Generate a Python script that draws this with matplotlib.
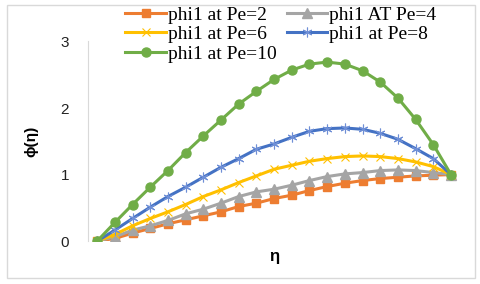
import numpy as np
import matplotlib.pyplot as plt
from matplotlib.patches import Rectangle

plt.rcParams['font.family'] = ['Liberation Sans', 'DejaVu Sans']

eta = np.linspace(0, 1, 21)

phi_pe2 = [0.0, 0.04, 0.12, 0.19, 0.26, 0.32, 0.38, 0.44, 0.52, 0.57, 0.64,
           0.69, 0.76, 0.82, 0.87, 0.91, 0.94, 0.96, 0.98, 0.99, 1.0]
phi_pe4 = [0.0, 0.065, 0.165, 0.23, 0.31, 0.41, 0.48, 0.57, 0.67, 0.74, 0.78,
           0.84, 0.91, 0.97, 1.01, 1.03, 1.06, 1.07, 1.06, 1.03, 1.0]
phi_pe6 = [0.0, 0.10, 0.23, 0.34, 0.44, 0.55, 0.67, 0.77, 0.88, 0.98, 1.08,
           1.14, 1.20, 1.24, 1.27, 1.28, 1.27, 1.24, 1.19, 1.12, 1.0]
phi_pe8 = [0.0, 0.165, 0.34, 0.51, 0.67, 0.81, 0.96, 1.11, 1.24, 1.38, 1.46,
           1.56, 1.65, 1.69, 1.70, 1.68, 1.62, 1.53, 1.39, 1.24, 1.0]
phi_pe10 = [0.0, 0.28, 0.55, 0.81, 1.06, 1.33, 1.58, 1.82, 2.06, 2.25, 2.43,
            2.57, 2.66, 2.69, 2.66, 2.56, 2.39, 2.15, 1.83, 1.45, 1.0]

labels = ['phi1 at Pe=2', 'phi1 AT Pe=4', 'phi1 at Pe=6', 'phi1 at Pe=8', 'phi1 at Pe=10']
colors = ['#ED7D31', '#A5A5A5', '#FFC000', '#4472C4', '#70AD47']

fig = plt.figure(figsize=(4.8, 2.84), dpi=100)
ax = fig.add_axes([0.184, 0.151, 0.774, 0.703])

h2, = ax.plot(eta, phi_pe2, color=colors[0], lw=2.2, marker='s', ms=6, label=labels[0])
h4, = ax.plot(eta, phi_pe4, color=colors[1], lw=2.2, marker='^', ms=7, label=labels[1])
h6, = ax.plot(eta, phi_pe6, color=colors[2], lw=2.2, marker='x', ms=6, mew=0.8, label=labels[2])
h8, = ax.plot(eta, phi_pe8, color=colors[3], lw=2.2, marker=(6, 2, 0), ms=7, mew=0.8,
              mec='#6f8fd6', label=labels[3])
h10, = ax.plot(eta, phi_pe10, color=colors[4], lw=2.2, marker='o', ms=6.5, label=labels[4])

ax.set_xlim(-0.025, 1.025)
ax.set_ylim(0, 3)
ax.set_yticks([0, 1, 2, 3])
ax.set_xticks([])
ax.tick_params(axis='y', length=0, pad=14, labelsize=11, labelcolor='#222222')
for s in ['top', 'right', 'bottom']:
    ax.spines[s].set_visible(False)
ax.spines['left'].set_color('#d9d9d9')

ax.set_ylabel('ϕ(η)', fontsize=11, fontweight='bold', labelpad=16)
ax.set_xlabel('η', fontsize=12, fontweight='bold', labelpad=6)

# legend in two columns, row-major order like Excel
fig.legend([h2, h6, h10, h4, h8], [labels[0], labels[2], labels[4], labels[1], labels[3]],
           ncol=2, loc='upper left', bbox_to_anchor=(0.245, 1.006), frameon=False,
           prop={'family': 'Liberation Serif', 'size': 14},
           handlelength=2.1, handletextpad=0.1, columnspacing=0.5, labelspacing=0.1,
           borderaxespad=0)

fig.patches.append(Rectangle((0.0146, 0.021), 0.975, 0.961, transform=fig.transFigure,
                             fill=False, edgecolor='#d9d9d9', lw=1))

fig.savefig('out.png', dpi=100)
